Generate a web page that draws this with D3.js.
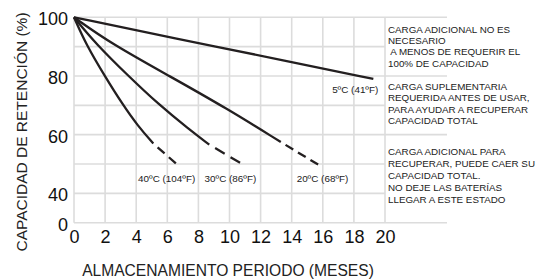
<!DOCTYPE html>
<html>
<head>
<meta charset="utf-8">
<script src="https://cdn.jsdelivr.net/npm/d3@7/dist/d3.min.js"></script>
<style>
  html, body { margin: 0; padding: 0; background: #fff; }
  svg { display: block; font-family: "Liberation Sans", Arial, sans-serif; }
</style>
</head>
<body>
<svg id="chart" width="538" height="280"></svg>
<script>
// ---- data ----
const seriesNames = ["5ºC (41ºF)", "20ºC (68ºF)", "30ºC (86ºF)", "40ºC (104ºF)"];
// solid parts (months, retention %)
const months5  = [0, 6.3, 13.9, 19.25];
const ret5     = [100, 93, 84.9, 79];
const months20 = [0, 2.4, 6.2, 9.8, 13.3];
const ret20    = [100, 91, 79.8, 69, 57.5];
const months30 = [0, 1.4, 3.5, 5.4, 7.4, 8.7];
const ret30    = [100, 91, 80, 70.5, 61.8, 56.6];
const months40 = [0, 0.8, 2.0, 3.1, 4.1, 5.1];
const ret40    = [100, 90.5, 79.8, 70.5, 63, 57];
// dashed continuation end points
const dashEndMonths = [null, 15.7, 10.68, 6.55];
const dashEndRet    = [null, 49.8, 50.4, 50.2];
// label anchor (data coords)
const labelMonths = [19.57, 15.98, 10.06, 5.96];
const labelRet    = [75.5, 45.06, 45.06, 45.06];

const xTicks = [0, 2, 4, 6, 8, 10, 12, 14, 16, 18, 20];
const yTickValues = [100, 80, 60, 40, 30];
const yTickLabels = ["100", "80", "60", "40", "0"];
const yGrid = [30, 40, 50, 60, 70, 80, 90, 100];
const yGridLong = [30, 60, 80, 100];

const noteBlocks = [
  ["CARGA ADICIONAL NO ES", "NECESARIO", " A MENOS DE REQUERIR EL", "100% DE CAPACIDAD"],
  ["CARGA SUPLEMENTARIA", "REQUERIDA ANTES DE USAR,", "PARA AYUDAR A RECUPERAR", "CAPACIDAD TOTAL"],
  ["CARGA ADICIONAL PARA", "RECUPERAR, PUEDE CAER SU", "CAPACIDAD TOTAL.", "NO DEJE LAS BATERÍAS", "LLEGAR A ESTE ESTADO"]
];
const xTitle = "ALMACENAMIENTO PERIODO (MESES)";
const yTitle = "CAPACIDAD DE RETENCIÓN (%)";

// ---- drawing ----
const svg = d3.select("#chart");
const x = d3.scaleLinear().domain([0, 20]).range([74, 385]);
const y = d3.scaleLinear().domain([30, 100]).range([222.7, 17.3]);
const gridColor = "#dcdcdc";
const ink = "#231f20";
const xRightExt = 447;

const grid = svg.append("g");
grid.selectAll("line.v").data(xTicks).join("line")
  .attr("x1", d => x(d)).attr("x2", d => x(d))
  .attr("y1", y(100)).attr("y2", y(30))
  .attr("stroke", gridColor).attr("stroke-width", 1.6);
grid.selectAll("line.h").data(yGrid).join("line")
  .attr("x1", x(0))
  .attr("x2", d => yGridLong.includes(d) ? xRightExt : x(20))
  .attr("y1", d => y(d)).attr("y2", d => y(d))
  .attr("stroke", gridColor).attr("stroke-width", 1.6);

// axes (tick labels only)
const yAxis = d3.axisLeft(y).tickValues(yTickValues)
  .tickFormat((d, i) => yTickLabels[i]).tickSize(0).tickPadding(6);
const gy = svg.append("g").attr("transform", `translate(${x(0)},0)`).call(yAxis);
gy.select(".domain").remove();
gy.selectAll("text").attr("font-size", 18).attr("fill", "#111")
  .attr("font-family", "Liberation Sans, Arial, sans-serif").attr("dy", "0.42em");

const xAxis = d3.axisBottom(x).tickValues(xTicks).tickFormat(d3.format("d"))
  .tickSize(0).tickPadding(8);
const gx = svg.append("g").attr("transform", `translate(0,${y(30)})`).call(xAxis);
gx.select(".domain").remove();
gx.selectAll("text").attr("font-size", 18).attr("fill", "#111")
  .attr("font-family", "Liberation Sans, Arial, sans-serif");

// curves
const solids = [[months5, ret5], [months20, ret20], [months30, ret30], [months40, ret40]];
const line = d3.line().x(d => x(d[0])).y(d => y(d[1])).curve(d3.curveBasis);
solids.forEach(([ms, rs], i) => {
  const pts = ms.map((m, j) => [m, rs[j]]);
  svg.append("path").attr("d", line(pts))
    .attr("fill", "none").attr("stroke", ink).attr("stroke-width", 2.3)
    .attr("stroke-linecap", "butt");
  if (dashEndMonths[i] !== null) {
    const last = pts[pts.length - 1];
    const x1 = x(last[0]), y1 = y(last[1]);
    const x2 = x(dashEndMonths[i]), y2 = y(dashEndRet[i]);
    const L = Math.hypot(x2 - x1, y2 - y1);
    const n = Math.max(1, Math.round(L / 15));
    const unit = L / n;
    const gap = unit * 0.38, dash = unit - gap;
    svg.append("line")
      .attr("x1", x1).attr("y1", y1).attr("x2", x2).attr("y2", y2)
      .attr("stroke", ink).attr("stroke-width", 2.3)
      .attr("stroke-dasharray", `0,${gap},${dash},0`);
  }
});

// series labels
seriesNames.forEach((name, i) => {
  svg.append("text")
    .attr("x", x(labelMonths[i])).attr("y", y(labelRet[i]))
    .attr("dy", "0.35em")
    .attr("text-anchor", i === 0 ? "end" : "middle")
    .attr("font-size", 9.9).attr("fill", "#222")
    .text(name);
});

// notes on the right
const noteBaselines = [[32.5, 43.5, 55.2, 66.8], [89.5, 100.8, 112.5, 124.2], [155.2, 166.8, 178.5, 191.3, 202.8]];
noteBlocks.forEach((blk, b) => {
  blk.forEach((t, k) => {
    svg.append("text")
      .attr("x", x(20) + 3).attr("y", noteBaselines[b][k])
      .attr("font-size", 9.8).attr("fill", "#222")
      .attr("xml:space", "preserve").style("white-space", "pre")
      .text(t);
  });
});

// axis titles
svg.append("text")
  .attr("transform", `translate(27,${132}) rotate(-90)`)
  .attr("text-anchor", "middle")
  .attr("font-size", 15.5).attr("fill", "#222")
  .text(yTitle);
svg.append("text")
  .attr("x", 228).attr("y", 275.5)
  .attr("text-anchor", "middle")
  .attr("font-size", 15.6).attr("fill", "#222")
  .text(xTitle);
</script>
</body>
</html>
